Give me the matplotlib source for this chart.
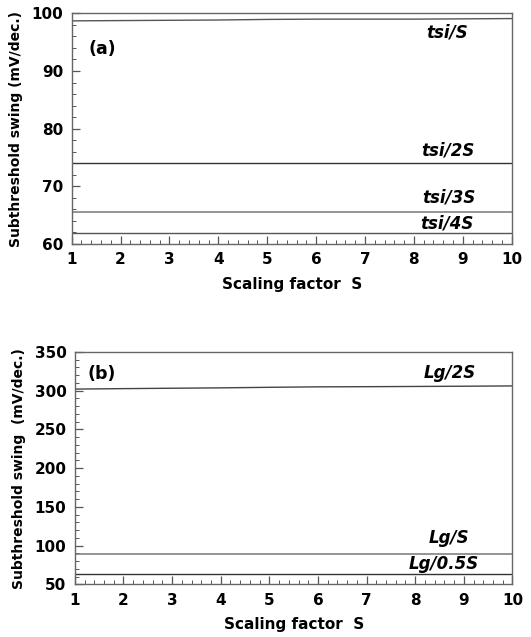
import matplotlib
matplotlib.use("Agg")
import matplotlib.pyplot as plt
from matplotlib.ticker import MultipleLocator

plt.rcParams['font.family'] = ['DejaVu Sans']
plt.rcParams['font.weight'] = 'bold'

S = [1, 2, 3, 4, 5, 6, 7, 8, 9, 10]
tsi_S = [98.7, 98.75, 98.8, 98.85, 98.95, 99.0, 99.0, 99.0, 99.05, 99.1]
tsi_2S = [74.0, 74.0, 74.0, 74.0, 74.0, 74.0, 74.0, 74.0, 74.0, 74.0]
tsi_3S = [65.6, 65.6, 65.6, 65.6, 65.6, 65.6, 65.6, 65.6, 65.6, 65.6]
tsi_4S = [61.85, 61.85, 61.85, 61.85, 61.85, 61.85, 61.85, 61.85, 61.85, 61.85]

Lg_2S = [301.9, 302.5, 303.0, 303.5, 304.2, 304.8, 305.0, 305.3, 305.6, 306.0]
Lg_S = [89.5, 89.5, 89.5, 89.5, 89.5, 89.5, 89.5, 89.5, 89.5, 89.5]
Lg_05S = [62.9, 62.9, 62.9, 62.9, 62.9, 62.9, 62.9, 62.9, 62.9, 62.9]

fig = plt.figure(figsize=(5.31, 6.37), dpi=100)
ax1 = fig.add_axes([0.135, 0.617, 0.8286, 0.362])
ax2 = fig.add_axes([0.141, 0.0827, 0.824, 0.365])

ax1.plot(S, tsi_S, color='#555555', lw=1.0)
ax1.plot(S, tsi_2S, color='#333333', lw=1.0)
ax1.plot(S, tsi_3S, color='#777777', lw=1.1)
ax1.plot(S, tsi_4S, color='#555555', lw=1.0)
ax2.plot(S, Lg_2S, color='#444444', lw=1.0)
ax2.plot(S, Lg_S, color='#777777', lw=1.1)
ax2.plot(S, Lg_05S, color='#333333', lw=1.0)

ax1.set_xlim(1, 10)
ax1.set_ylim(60, 100)
ax1.yaxis.set_major_locator(MultipleLocator(10))
ax1.yaxis.set_minor_locator(MultipleLocator(2))
ax2.set_xlim(1, 10)
ax2.set_ylim(50, 350)
ax2.yaxis.set_major_locator(MultipleLocator(50))
ax2.yaxis.set_minor_locator(MultipleLocator(10))

for ax in (ax1, ax2):
    ax.xaxis.set_major_locator(MultipleLocator(1))
    ax.xaxis.set_minor_locator(MultipleLocator(0.2))
    ax.tick_params(which='both', direction='in', top=False, right=False, colors='#555555',
                   labelcolor='black', labelsize=11, pad=6)
    ax.tick_params(which='major', length=6, width=0.9)
    ax.tick_params(which='minor', length=3, width=0.7)
    for sp in ax.spines.values():
        sp.set_color('#666666')
        sp.set_linewidth(1.0)
    for lab in ax.get_xticklabels() + ax.get_yticklabels():
        lab.set_fontweight('bold')
    ax.set_xlabel('Scaling factor  S', fontsize=11, fontweight='bold', labelpad=7)

ax1.set_ylabel('Subthreshold swing (mV/dec.)', fontsize=10, fontweight='bold', labelpad=6)
ax2.set_ylabel('Subthreshold swing  (mV/dec.)', fontsize=10, fontweight='bold', labelpad=6)

tk = dict(fontsize=12, fontweight='bold', style='italic', ha='center', va='center')
ax1.text(8.68, 96.7, 'tsi/S', **tk)
ax1.text(8.7, 76.2, 'tsi/2S', **tk)
ax1.text(8.72, 68.1, 'tsi/3S', **tk)
ax1.text(8.68, 63.5, 'tsi/4S', **tk)
ax1.text(1.62, 93.9, '(a)', fontsize=12.5, fontweight='bold', ha='center', va='center')

ax2.text(8.71, 322.9, 'Lg/2S', **tk)
ax2.text(8.7, 109.3, 'Lg/S', **tk)
ax2.text(8.58, 75.8, 'Lg/0.5S', **tk)
ax2.text(1.55, 322, '(b)', fontsize=12.5, fontweight='bold', ha='center', va='center')

fig.savefig('out.png', dpi=100)
